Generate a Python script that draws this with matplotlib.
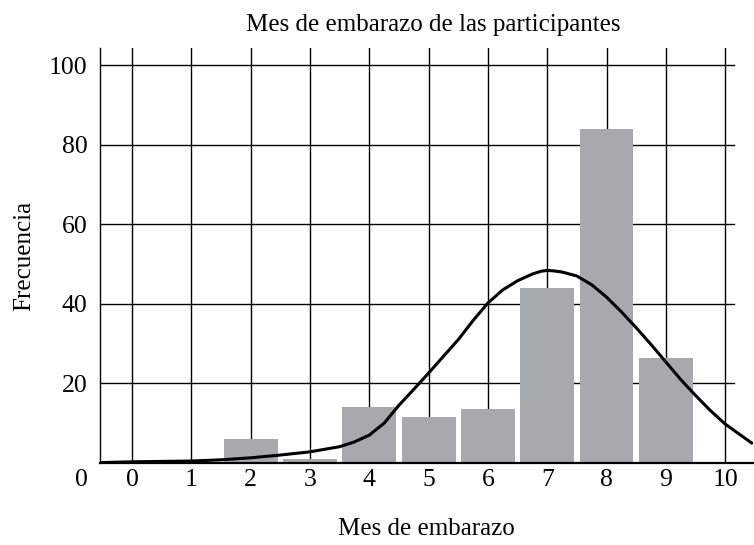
import matplotlib
matplotlib.use("Agg")
import matplotlib.pyplot as plt
import matplotlib.transforms as mtransforms

# ---- data ----
months = [2, 3, 4, 5, 6, 7, 8, 9]
freq = [6, 1, 14, 11.5, 13.5, 44, 84, 26.5]

curve_x = [-0.54, 0, 0.5, 1, 1.5, 2, 2.5, 3, 3.5, 3.75, 4, 4.25, 4.5, 4.75, 5,
           5.5, 5.75, 6, 6.25, 6.5, 6.75, 6.9, 7, 7.1, 7.25, 7.5, 7.75, 8,
           8.25, 8.5, 8.75, 9, 9.25, 9.5, 9.75, 10, 10.45]
curve_y = [0.1, 0.3, 0.4, 0.5, 0.8, 1.3, 2.0, 2.8, 4.1, 5.3, 7.0, 10.0, 14.5,
           18.5, 22.6, 31.0, 35.8, 40.2, 43.5, 45.8, 47.5, 48.2, 48.4, 48.3,
           48.0, 47.0, 44.8, 41.7, 38.0, 34.0, 29.8, 25.4, 21.0, 17.0, 13.2,
           9.8, 5.0]

x_ticks = list(range(0, 11))
x_tick_labels = [str(v) for v in x_ticks]
y_ticks = [20, 40, 60, 80, 100]
y_tick_labels = [str(v) for v in y_ticks]

title = "Mes de embarazo de las participantes"
xlabel = "Mes de embarazo"
ylabel = "Frecuencia"

plt.rcParams['font.family'] = ['Liberation Serif', 'DejaVu Serif']

fig = plt.figure(figsize=(7.54, 5.45), dpi=100)
ax = fig.add_axes([100/754, (545-463)/545, (753-100)/754, (463-48)/545])

ax.set_xlim(-0.54, 10.47)
ax.set_ylim(0, 104.3)

# grid
for xv in x_ticks:
    ax.axvline(xv, color='black', lw=1.0, zorder=1)
xr = (10.15 + 0.54) / (10.47 + 0.54)
for yv in y_ticks:
    ax.axhline(yv, xmin=0, xmax=xr, color='black', lw=1.0, zorder=1)

ax.bar(months, freq, width=0.91, color='#a7a9ac', zorder=2)
ax.plot(curve_x, curve_y, color='black', lw=2.2, zorder=3,
        solid_capstyle='round', solid_joinstyle='round')

for s in ['top', 'right']:
    ax.spines[s].set_visible(False)
ax.spines['left'].set_linewidth(1.0)
ax.spines['bottom'].set_linewidth(1.6)
ax.spines['bottom'].set_zorder(4)

ax.set_xticks(x_ticks)
ax.set_xticklabels(x_tick_labels, fontsize=18.5)
ax.set_yticks(y_ticks)
ax.set_yticklabels(y_tick_labels, fontsize=18.5)
ax.tick_params(axis='both', length=0)
ax.tick_params(axis='y', pad=9)
ax.tick_params(axis='x', pad=4)

# the y-axis zero label sits at the level of the x tick labels
ax.text(-12/653, 0, "0", fontsize=18.5, ha='right', va='top',
        transform=ax.transAxes + mtransforms.ScaledTranslation(0, -4/72, fig.dpi_scale_trans))

ax.set_title(title, fontsize=18, pad=12, x=0.511)
ax.set_xlabel(xlabel, fontsize=18, labelpad=20)
ax.set_ylabel(ylabel, fontsize=18, labelpad=10)

fig.savefig("out.png", dpi=100)
